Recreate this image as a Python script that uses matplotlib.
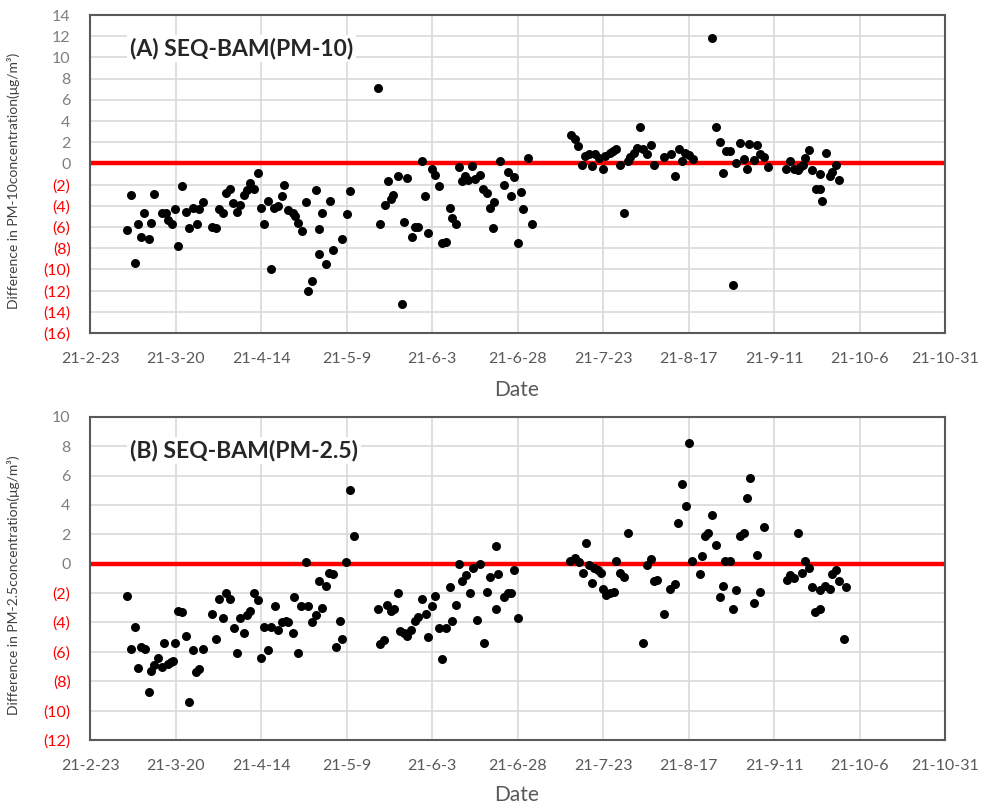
import datetime as dt
import matplotlib
matplotlib.use("Agg")
import matplotlib.pyplot as plt
import matplotlib.dates as mdates
from matplotlib.ticker import FuncFormatter, MultipleLocator

plt.rcParams['font.family'] = ['Lato', 'DejaVu Sans']

start = dt.datetime(2021, 2, 23)

# (A) PM-10: days after 2021-02-23 and difference values
pm10_days = [10.7, 11.9, 13.0, 14.1, 14.8, 15.9, 17.1, 17.8, 18.8, 21.0, 22.1, 22.9, 24.1, 24.7,
             25.8, 27.0, 28.1, 28.8, 30.0, 31.2, 31.9, 32.9, 35.6, 36.8, 37.7, 38.8, 39.8, 40.9,
             41.9, 42.9, 43.9, 45.1, 45.8, 46.8, 48.0, 49.0, 49.9, 51.0, 52.1, 52.8, 53.8, 55.1,
             56.1, 56.8, 58.0, 59.2, 59.9, 60.9, 62.1, 63.1, 63.8, 65.0, 66.1, 66.8, 67.0, 67.9,
             69.0, 70.2, 70.9, 73.8, 75.0, 76.0,
             84.1, 84.8, 86.1, 87.0, 87.9, 88.7, 89.9, 91.1, 91.8, 92.8, 94.1, 95.0, 96.0, 97.0,
             97.9, 98.9, 99.9, 100.9, 101.9, 102.8, 104.0, 105.1, 105.9, 107.0, 108.0, 108.7,
             109.6, 110.6, 111.6, 112.6, 114.0, 115.0, 116.0, 116.8, 117.9, 118.2, 119.9, 120.9,
             122.1, 123.0, 124.0, 125.1, 126.0, 126.7, 128.0, 129.2,
             140.7, 141.9, 142.8, 143.8, 144.8, 145.8, 146.7, 147.7, 148.7, 150.1, 150.6, 151.9,
             152.8, 153.8, 155.0, 156.0, 157.2, 157.9, 158.9, 159.9, 160.9, 161.6, 162.8, 164.0,
             164.9, 167.7, 169.9, 171.1, 172.1, 173.0, 174.0, 175.2, 176.2,
             181.8, 183.0, 184.1, 185.2, 186.0, 187.0, 188.1, 188.9, 189.9, 191.1, 192.0, 192.8,
             194.0, 195.0, 195.8, 196.9, 198.1,
             203.5, 204.7, 205.9, 206.9, 207.6, 208.4, 209.1, 210.1, 211.1, 212.3, 213.3, 213.3,
             214.0, 215.1, 216.2, 216.9, 218.1, 219.1]
pm10_diff = [-6.3, -3.0, -9.4, -5.7, -6.9, -4.7, -7.1, -5.6, -2.9, -4.7, -4.7, -5.3, -5.7, -4.3,
             -7.8, -2.1, -4.6, -6.1, -4.2, -5.7, -4.3, -3.6, -6.0, -6.1, -4.3, -4.7, -2.8, -2.4,
             -3.7, -4.6, -3.9, -3.0, -2.5, -1.8, -2.4, -0.9, -4.2, -5.7, -3.5, -10.0, -4.2, -4.0,
             -3.1, -2.0, -4.4, -4.7, -5.0, -5.6, -6.4, -3.6, -12.0, -11.1, -2.5, -6.2, -8.5, -4.7,
             -9.5, -3.5, -8.2, -7.1, -4.8, -2.6,
             7.1, -5.7, -3.9, -1.7, -3.4, -3.0, -1.2, -13.3, -5.5, -1.4, -6.9, -6.0, -6.0, 0.2,
             -3.1, -6.6, -0.5, -1.1, -2.1, -7.5, -7.4, -4.2, -5.1, -5.7, -0.3, -1.7,
             -1.2, -1.6, -0.2, -1.5, -1.1, -2.4, -2.8, -4.2, -6.1, -3.6, 0.2, -2.0,
             -0.8, -3.1, -1.3, -7.5, -2.7, -4.3, 0.5, -5.7,
             2.7, 2.3, 1.6, -0.1, 0.7, 0.9, -0.2, 0.9, 0.5, -0.5, 0.7, 1.0,
             1.2, 1.4, -0.1, -4.7, 0.2, 0.6, 1.0, 1.5, 3.4, 1.4, 0.9, 1.7,
             -0.1, 0.6, 0.9, -1.2, 1.4, 0.2, 1.0, 0.8, 0.4,
             11.8, 3.4, 2.0, -0.9, 1.2, 1.2, -11.5, 0.0, 1.9, 0.4, -0.5, 1.8,
             0.3, 1.7, 0.9, 0.6, -0.3,
             -0.5, 0.2, -0.5, -0.6, -0.3, -0.1, 0.5, 1.3, -0.6, -2.4, -2.4, -1.0,
             -3.5, 1.0, -1.2, -0.8, -0.1, -1.6]

# (B) PM-2.5
pm25_days = [10.7, 11.9, 13.0, 14.1, 14.8, 16.1, 17.1, 17.7, 18.7, 19.9, 21.1, 21.7, 22.7, 23.6,
             24.4, 24.9, 25.8, 27.0, 28.1, 28.8, 30.0, 31.0, 31.9, 32.9, 35.8, 36.8, 37.8, 38.8,
             39.8, 40.9, 42.1, 42.9, 43.9, 45.1, 45.8, 46.9, 48.0, 49.0, 49.9, 51.0, 52.1, 52.9,
             54.1, 55.1, 56.0, 57.2, 58.0, 59.2, 59.7, 60.9, 61.7, 63.1, 63.8, 65.0, 66.1, 66.8,
             67.9, 69.0, 70.0, 70.9, 71.9, 73.1, 73.8, 74.9, 76.0, 77.2,
             84.1, 84.8, 85.8, 86.7, 87.9, 89.0, 89.9, 90.6, 91.8, 92.8, 93.9, 95.0, 96.0, 97.0,
             98.2, 98.9, 99.9, 100.9, 101.9, 103.0, 104.1, 105.1, 105.9, 107.0, 108.0, 108.7,
             109.9, 111.1, 111.9, 113.1, 114.0, 115.2, 116.0, 116.9, 118.7, 118.7, 119.4, 121.1,
             122.1, 123.0, 124.0, 125.1,
             140.4, 141.9, 143.1, 144.0, 145.0, 146.0, 146.9, 147.4, 148.4, 149.5, 150.1, 150.9,
             151.9, 153.1, 153.8, 155.0, 156.2, 157.2,
             161.8, 162.8, 164.0, 164.8, 165.9, 167.7, 169.6, 170.9, 171.9, 173.0, 174.2, 175.0,
             176.0, 178.2, 178.9, 179.7, 180.8, 181.8, 183.1, 184.1, 185.2, 185.7, 187.0, 188.1,
             188.8, 189.9, 191.1, 192.0, 193.0, 194.0, 195.0, 195.9, 196.9,
             203.7, 204.7, 205.9, 206.9, 208.1, 209.1, 210.1, 211.1, 212.0, 213.5, 213.5, 215.0,
             216.2, 216.9, 218.2, 219.1, 220.3, 221.1]
pm25_diff = [-2.2, -5.8, -4.3, -7.1, -5.7, -5.8, -8.7, -7.3, -6.9, -6.4, -7.0, -5.4, -6.8, -6.7,
             -6.6, -5.4, -3.2, -3.3, -4.9, -9.4, -5.9, -7.4, -7.2, -5.8, -3.4, -5.1, -2.4, -3.7,
             -2.0, -2.4, -4.4, -6.1, -3.7, -4.7, -3.5, -3.2, -2.0, -2.5, -6.4, -4.3, -5.9, -4.3,
             -2.9, -4.5, -4.0, -3.9, -4.0, -4.7, -2.3, -6.1, -2.9, 0.1, -2.9, -4.0, -3.5, -1.2,
             -3.0, -1.5, -0.6, -0.7, -5.7, -3.9, -5.1, 0.1, 5.0, 1.9,
             -3.1, -5.5, -5.2, -2.8, -3.2, -3.1, -2.0, -4.6, -4.7, -4.9, -4.5, -3.9, -3.6, -2.4,
             -3.4, -5.0, -2.9, -2.2, -4.4, -6.5, -4.4, -1.6, -3.9, -2.8, 0.0, -1.2,
             -0.8, -2.0, -0.3, -3.8, 0.0, -5.4, -1.9, -0.9, -3.1, 1.2, -0.7, -2.3,
             -2.0, -2.0, -0.4, -3.7,
             0.2, 0.4, 0.1, -0.6, 1.4, -0.1, -1.3, -0.3, -0.4, -0.6, -1.7, -2.1,
             -2.0, -1.9, 0.2, -0.6, -0.9, 2.1,
             -5.4, -0.1, 0.3, -1.2, -1.1, -3.4, -1.7, -1.4, 2.8, 5.4, 3.9, 8.2,
             0.2, -0.7, 0.5, 1.9, 2.1, 3.3, 1.3, -2.3, -1.5, 0.2, 0.2, -3.1,
             -1.8, 1.9, 2.1, 4.5, 5.8, -2.7, 0.6, -1.9, 2.5,
             -1.1, -0.8, -1.0, 2.1, -0.6, 0.2, -0.3, -1.6, -3.3, -3.1, -1.8, -1.5,
             -1.7, -0.7, -0.4, -1.2, -5.1, -1.6]

panels = [
    ("(A) SEQ-BAM(PM-10)", pm10_days, pm10_diff, (-16, 14),
     "Difference in PM-10concentration(μg/m³)", [0.0915, 0.5868, 0.869, 0.3945], -0.148),
    ("(B) SEQ-BAM(PM-2.5)", pm25_days, pm25_diff, (-12, 10),
     "Difference in PM-2.5concentration(μg/m³)", [0.0915, 0.0819, 0.869, 0.401], -0.138),
]

grey = '#595959'
fig = plt.figure(figsize=(9.84, 8.06), dpi=100)

for title, days, diff, ylim, ylabel, rect, date_y in panels:
    ax = fig.add_axes(rect)
    dates = [start + dt.timedelta(days=d) for d in days]
    ax.axhline(0, color='#ff0000', lw=3.2, zorder=2)
    ax.scatter(dates, diff, s=42, color='black', zorder=3, linewidths=0)

    ax.set_xlim(start, start + dt.timedelta(days=250))
    ax.set_ylim(*ylim)
    ax.set_xticks([start + dt.timedelta(days=25 * i) for i in range(11)])
    ax.xaxis.set_major_formatter(FuncFormatter(
        lambda v, p: (lambda d: f"{d.year % 100}-{d.month}-{d.day}")(mdates.num2date(v))))
    ax.yaxis.set_major_locator(MultipleLocator(2))
    ax.yaxis.set_major_formatter(FuncFormatter(
        lambda v, p: f"({abs(v):.0f})" if v < 0 else f"{v:.0f}"))

    ax.grid(True, color='#d9d9d9', lw=1.2, zorder=0)
    ax.set_axisbelow(True)
    for sp in ax.spines.values():
        sp.set_color(grey)
        sp.set_linewidth(1.5)
    ax.tick_params(axis='x', length=0, pad=14, labelsize=11.5, labelcolor=grey)
    ax.tick_params(axis='y', length=0, pad=14, labelsize=11.5)
    fig.canvas.draw()
    for lab, val in zip(ax.get_yticklabels(), ax.get_yticks()):
        lab.set_color('#ff0000' if val < 0 else '#7f7f7f')

    ax.set_xlabel("Date", fontsize=15, color=grey)
    ax.xaxis.set_label_coords(0.499, date_y)
    ax.set_ylabel(ylabel, fontsize=10, color='#404040')
    ax.yaxis.set_label_coords(-0.082, 0.48)

    ax.text(0.047, 0.895, title, transform=ax.transAxes, fontsize=16.5, fontweight='bold',
            color='#262626', va='center', ha='left',
            bbox=dict(facecolor='white', edgecolor='none', pad=2))

fig.savefig("out.png", dpi=100)
